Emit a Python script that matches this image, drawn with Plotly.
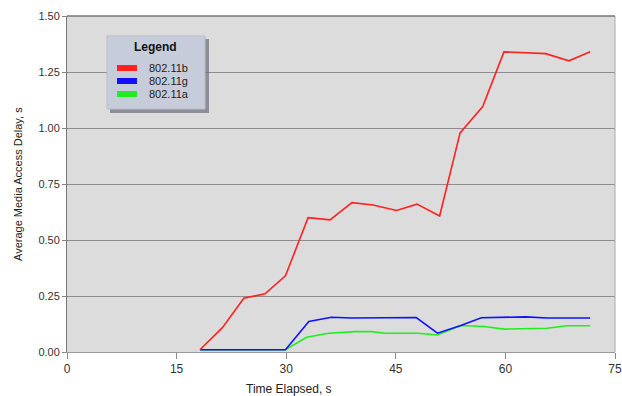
import plotly.graph_objects as go

# ---- data ----
x_b = [18.2, 21.3, 24.2, 27.1, 29.9, 33.0, 36.0, 39.0, 41.9, 45.1, 47.9, 51.0, 53.8, 56.9, 59.8, 65.5, 68.7, 71.6]
y_b = [0.01, 0.11, 0.24, 0.26, 0.34, 0.60, 0.59, 0.667, 0.656, 0.632, 0.66, 0.607, 0.978, 1.096, 1.34, 1.332, 1.30, 1.34]

x_g = [18.2, 29.9, 33.1, 36.2, 39.0, 47.8, 50.7, 53.9, 56.7, 62.8, 65.7, 71.6]
y_g = [0.01, 0.01, 0.136, 0.155, 0.152, 0.154, 0.084, 0.118, 0.153, 0.157, 0.152, 0.152]

x_a = [18.2, 29.9, 32.8, 35.8, 39.4, 41.7, 43.5, 48.0, 50.7, 53.9, 57.1, 59.8, 65.7, 68.4, 71.6]
y_a = [0.01, 0.01, 0.066, 0.084, 0.091, 0.091, 0.084, 0.084, 0.076, 0.118, 0.114, 0.102, 0.106, 0.117, 0.117]

series_names = ["802.11b", "802.11g", "802.11a"]
series_colors = ["#ff2020", "#1010ff", "#20ee20"]

x_ticks = [0, 15, 30, 45, 60, 75]
y_ticks = [0, 0.25, 0.5, 0.75, 1.0, 1.25, 1.5]
y_tick_text = ["0.00", "0.25", "0.50", "0.75", "1.00", "1.25", "1.50"]

fig = go.Figure()
# draw green first, then blue, then red
for xs, ys, name, col in [(x_a, y_a, series_names[2], series_colors[2]),
                          (x_g, y_g, series_names[1], series_colors[1]),
                          (x_b, y_b, series_names[0], series_colors[0])]:
    fig.add_trace(go.Scatter(x=xs, y=ys, mode="lines", name=name,
                             line=dict(color=col, width=1.6), showlegend=False))

font_family = "Liberation Sans, Arial, sans-serif"

L, R, T, B = 67, 7, 16, 44
W, H = 622, 396
PW = W - L - R
PH = H - T - B

fig.update_layout(
    width=W, height=H,
    margin=dict(l=L, r=R, t=T, b=B, autoexpand=False),
    paper_bgcolor="white",
    plot_bgcolor="#dcdcdc",
    showlegend=False,
    font=dict(family=font_family, size=11, color="#333333"),
    xaxis=dict(range=[0, 75], tickvals=x_ticks, ticks="outside", ticklen=6,
               tickcolor="#888888", showgrid=False, zeroline=False,
               showline=True, linecolor="#999999", linewidth=1,
               ticklabeloverflow="allow", automargin=False,
               tickfont=dict(size=12, color="#333333")),
    yaxis=dict(range=[0, 1.5], tickvals=y_ticks, ticktext=y_tick_text,
               ticks="outside", ticklen=4, tickcolor="#888888",
               showgrid=True, gridcolor="#8c8c8c", gridwidth=1, automargin=False,
               zeroline=False, showline=True, linecolor="#777777", linewidth=1,
               tickfont=dict(size=11, color="#333333")),
)

# right and top borders of plot area
fig.add_shape(type="line", xref="paper", yref="paper", x0=1, x1=1, y0=0, y1=1,
              line=dict(color="#aaaaaa", width=1))
fig.add_shape(type="line", xref="paper", yref="paper", x0=0, x1=1, y0=1, y1=1,
              line=dict(color="#777777", width=1.5))


def px(xp):
    return (xp - L) / PW


def py(yp):
    return (H - B - yp) / PH


# axis titles
fig.add_annotation(text="Time Elapsed, s", xref="paper", yref="paper",
                   x=px(289), y=py(389), showarrow=False,
                   font=dict(size=12, color="#222222"), xanchor="center", yanchor="middle")
fig.add_annotation(text="Average Media Access Delay, s", xref="paper", yref="paper",
                   x=px(18), y=py(184), showarrow=False, textangle=-90,
                   font=dict(size=11, color="#222222"), xanchor="center", yanchor="middle")

# custom legend box
fig.add_shape(type="rect", xref="paper", yref="paper",
              x0=px(110), x1=px(209), y0=py(113), y1=py(39),
              fillcolor="#6a6e78", line=dict(width=0), opacity=0.7)
fig.add_shape(type="rect", xref="paper", yref="paper",
              x0=px(107), x1=px(205), y0=py(109), y1=py(36),
              fillcolor="#c7ccda", line=dict(color="#b8bdca", width=1))
fig.add_annotation(text="<b>Legend</b>", xref="paper", yref="paper",
                   x=px(155), y=py(47), showarrow=False,
                   font=dict(size=12, color="#111111"), xanchor="center", yanchor="middle")
item_y = [68, 81, 94]
for name, col, yy in zip(series_names, series_colors, item_y):
    fig.add_shape(type="rect", xref="paper", yref="paper",
                  x0=px(117), x1=px(137), y0=py(yy + 3), y1=py(yy - 3),
                  fillcolor=col, line=dict(width=0))
    fig.add_annotation(text=name, xref="paper", yref="paper",
                       x=px(147), y=py(yy), showarrow=False,
                       font=dict(size=11, color="#222222"), xanchor="left", yanchor="middle")

fig.write_html("out.html", config={"displayModeBar": False},
               post_script="document.body.style.margin='0';document.body.style.overflow='hidden';")
